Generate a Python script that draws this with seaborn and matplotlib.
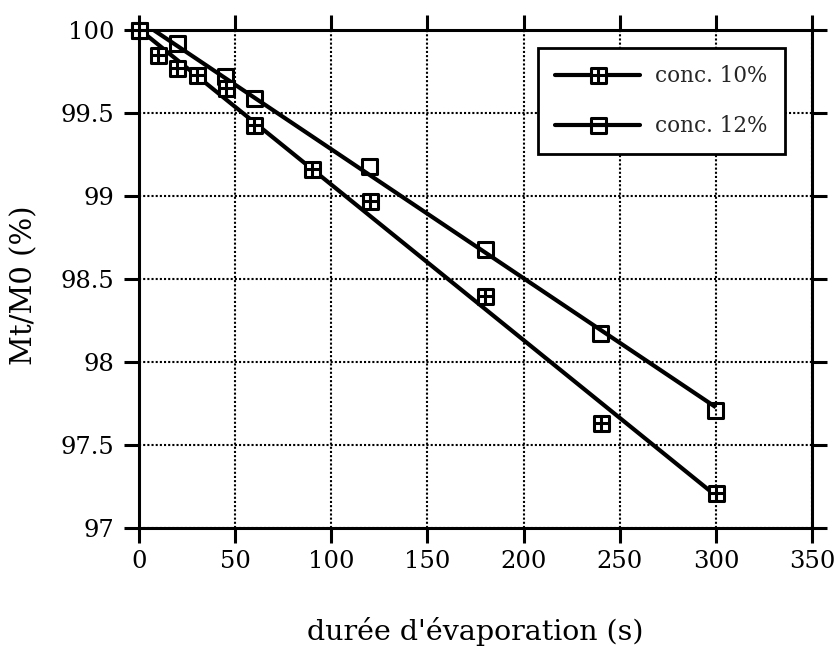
import numpy as np
import matplotlib
matplotlib.use("Agg")
import matplotlib.pyplot as plt
from matplotlib.path import Path
from matplotlib.lines import Line2D
import seaborn as sns

# Relative mass Mt/M0 (%) versus evaporation time (s)
t_10 = [0, 10, 20, 30, 45, 60, 90, 120, 180, 240, 300]
m_10 = [100, 99.85, 99.77, 99.73, 99.65, 99.43, 99.16, 98.97, 98.40, 97.63, 97.21]

t_12 = [0, 20, 45, 60, 120, 180, 240, 300]
m_12 = [100, 99.92, 99.72, 99.59, 99.18, 98.68, 98.17, 97.71]

series_labels = ["conc. 10%", "conc. 12%"]
x_ticks = [0, 50, 100, 150, 200, 250, 300, 350]
y_ticks = [97, 97.5, 98, 98.5, 99, 99.5, 100]
y_tick_labels = ["97", "97.5", "98", "98.5", "99", "99.5", "100"]
x_label = "durée d'évaporation (s)"
y_label = "Mt/M0 (%)"

sns.set_theme(style="white")
plt.rcParams["font.family"] = ["DejaVu Serif"]

# Square marker with an inner cross (boxed plus) and a plain square
box_plus = Path(
    [(-1, -1), (1, -1), (1, 1), (-1, 1), (-1, -1),
     (-1, 0), (1, 0), (0, -1), (0, 1)],
    [Path.MOVETO, Path.LINETO, Path.LINETO, Path.LINETO, Path.CLOSEPOLY,
     Path.MOVETO, Path.LINETO, Path.MOVETO, Path.LINETO],
)
box = Path(
    [(-1, -1), (1, -1), (1, 1), (-1, 1), (-1, -1)],
    [Path.MOVETO, Path.LINETO, Path.LINETO, Path.LINETO, Path.CLOSEPOLY],
)

fig = plt.figure(figsize=(8.35, 6.48), dpi=100)
ax = fig.add_axes([0.1665, 0.1852, 0.806, 0.7685])

mk_size = 10.8
mk_edge = 2.2
line_w = 3.0

# Linear trend lines with the measured points
sns.regplot(x=t_12, y=m_12, ci=None, ax=ax, color="black", marker=box,
            scatter_kws=dict(s=mk_size ** 2, facecolors="none", edgecolors="black",
                             linewidths=mk_edge, alpha=1, clip_on=False, zorder=4),
            line_kws=dict(color="black", lw=line_w, zorder=3, solid_capstyle="butt"))
sns.regplot(x=t_10, y=m_10, ci=None, ax=ax, color="black", marker=box_plus,
            scatter_kws=dict(s=mk_size ** 2, facecolors="white", edgecolors="black",
                             linewidths=mk_edge, alpha=1, clip_on=False, zorder=5),
            line_kws=dict(color="black", lw=line_w, zorder=3, solid_capstyle="butt"))

ax.set_xlim(0, 350)
ax.set_ylim(97, 100)
ax.set_xticks(x_ticks)
ax.set_xticklabels([str(v) for v in x_ticks])
ax.set_yticks(y_ticks)
ax.set_yticklabels(y_tick_labels)

ax.grid(True, color="black", linestyle=(0, (1, 1)), linewidth=1.5)
ax.set_axisbelow(True)

for s in ax.spines.values():
    s.set_visible(True)
    s.set_color("black")
    s.set_linewidth(2.2)
    s.set_zorder(6)

ax.tick_params(axis="both", which="major", direction="out", length=11, width=2.2,
               color="black", labelsize=17.5, labelcolor="black",
               top=True, right=True, bottom=True, left=True)
ax.tick_params(axis="x", pad=5)
ax.tick_params(axis="y", pad=7)

ax.set_xlabel(x_label, fontsize=20.5, color="black")
ax.set_ylabel(y_label, fontsize=21, color="black")
ax.xaxis.set_label_coords(0.5, -0.178)
ax.yaxis.set_label_coords(-0.15, 0.488)

handles = [
    Line2D([], [], color="black", lw=line_w, marker=box_plus, markersize=mk_size,
           markerfacecolor="white", markeredgecolor="black", markeredgewidth=mk_edge),
    Line2D([], [], color="black", lw=line_w, marker=box, markersize=mk_size,
           markerfacecolor="none", markeredgecolor="black", markeredgewidth=mk_edge),
]
leg = ax.legend(handles, series_labels, loc="upper right", bbox_to_anchor=(0.96, 0.964),
                borderaxespad=0, fontsize=15.5, handlelength=3.95, handletextpad=0.7,
                labelspacing=1.3, borderpad=0.8, fancybox=False, framealpha=1,
                edgecolor="black", frameon=True)
leg.get_frame().set_linewidth(2.0)
leg.set_zorder(7)

fig.savefig("out.png", dpi=100)
